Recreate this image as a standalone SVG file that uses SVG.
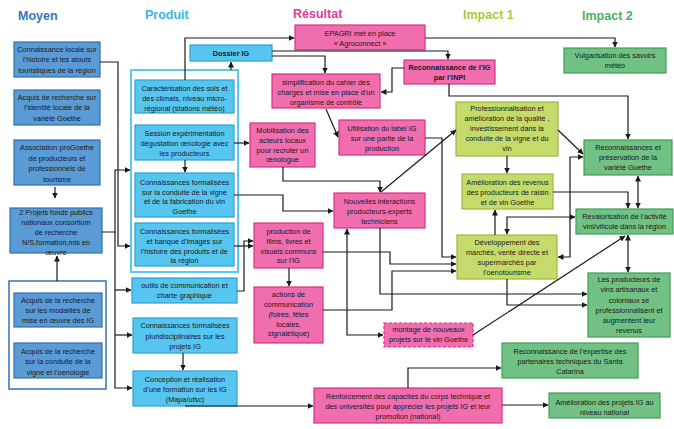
<svg xmlns="http://www.w3.org/2000/svg" width="674" height="429" viewBox="0 0 674 429">
<style>
.t{font-family:"Liberation Sans",Arial,sans-serif;font-size:7.3px;fill:#1a1a1a;text-anchor:middle}
.b{font-weight:bold}
.h{font-family:"Liberation Sans",Arial,sans-serif;font-size:12.5px;font-weight:bold}
.moy{fill:#5b9bd5;stroke:#2f6fb0;stroke-width:1.2}
.pro{fill:#56c5ef;stroke:#2aa2d4;stroke-width:1.2}
.res{fill:#f06dae;stroke:#d8307f;stroke-width:1.2}
.im1{fill:#c4db6b;stroke:#9cba3a;stroke-width:1.2}
.im2{fill:#70c183;stroke:#3e9e55;stroke-width:1.2}
.c{fill:none;stroke:#1a1a1a;stroke-width:1.2;marker-end:url(#a)}
.d{marker-start:url(#a)}
</style>
<defs>
<marker id="a" markerUnits="userSpaceOnUse" markerWidth="6" markerHeight="6" refX="5.5" refY="3" orient="auto-start-reverse"><path d="M0,0 L6,3 L0,6 z" fill="#1a1a1a"/></marker>
</defs>
<rect width="674" height="429" fill="#ffffff"/>
<g id="titles">
<text class="h" x="18" y="20" fill="#2f77c0">Moyen</text>
<text class="h" x="145" y="19" fill="#33b8e8">Produit</text>
<text class="h" x="293" y="18" fill="#e03b9b">Résultat</text>
<text class="h" x="463" y="19" fill="#a8c83c">Impact 1</text>
<text class="h" x="582" y="20" fill="#4cae5e">Impact 2</text>
</g>
<g id="moyen1"><rect class="moy" x="14" y="42" width="86" height="35"/><text class="t"><tspan x="57" y="51.5">Connaissance locale sur</tspan><tspan x="57" y="62">l’histoire et les atouts</tspan><tspan x="57" y="72.5">touristiques de la région</tspan></text></g>
<g id="moyen2"><rect class="moy" x="14" y="90" width="86" height="35"/><text class="t"><tspan x="57" y="99.5">Acquis de recherche sur</tspan><tspan x="57" y="110">l’identité locale de la</tspan><tspan x="57" y="120.5">variété Goethe</tspan></text></g>
<g id="moyen3"><rect class="moy" x="14" y="140" width="86" height="45"/><text class="t"><tspan x="57" y="150">Association proGoethe</tspan><tspan x="57" y="160.5">de producteurs et</tspan><tspan x="57" y="171">professionnels de</tspan><tspan x="57" y="181.5">tourisme</tspan></text></g>
<g id="moyen4"><rect class="moy" x="10" y="208" width="92" height="45"/><text class="t"><tspan x="56" y="214.5">2 Projets fonds publics</tspan><tspan x="56" y="224.5">nationaux consortium</tspan><tspan x="56" y="234.5">de recherche</tspan><tspan x="56" y="244.5">N/S,formation,mis en</tspan><tspan x="56" y="254.5">œuvre</tspan></text></g>
<g id="moyen-acquis">
<rect x="9" y="281" width="97" height="108" fill="#ffffff" stroke="#2e75b6" stroke-width="1.5"/>
<g id="moyen5"><rect class="moy" x="14" y="293" width="88" height="34"/><text class="t"><tspan x="58" y="302.5">Acquis de la recherche</tspan><tspan x="58" y="312.5">sur les modalités de</tspan><tspan x="58" y="322.5">mise en œuvre des IG</tspan></text></g>
<g id="moyen6"><rect class="moy" x="14" y="343" width="88" height="35"/><text class="t"><tspan x="58" y="353.5">Acquis de la recherche</tspan><tspan x="58" y="364">sur la conduite de la</tspan><tspan x="58" y="374.5">vigne et l’oenologie</tspan></text></g>
</g>
<g id="dossier"><rect class="pro" x="190" y="45" width="82" height="16"/><text class="t b" x="231" y="56">Dossier IG</text></g>
<g id="produit-group">
<rect x="131" y="70" width="107" height="202" fill="#ffffff" stroke="#5bc8ef" stroke-width="2"/>
<g id="prod-a"><rect class="pro" x="135" y="80" width="99" height="33"/><text class="t"><tspan x="184.5" y="90.5">Caractérisation des sols et</tspan><tspan x="184.5" y="100.5">des climats, niveau micro-</tspan><tspan x="184.5" y="110.5">régional  (stations  météo)</tspan></text></g>
<g id="prod-b"><rect class="pro" x="135" y="125" width="99" height="35"/><text class="t"><tspan x="184.5" y="135.5">Session expérimentation</tspan><tspan x="184.5" y="146">dégustation œnologie avec</tspan><tspan x="184.5" y="156">les producteurs</tspan></text></g>
<g id="prod-c"><rect class="pro" x="135" y="173" width="99" height="44"/><text class="t"><tspan x="184.5" y="184.5">Connaissances formalisées</tspan><tspan x="184.5" y="194.5">sur la conduite de la vigne</tspan><tspan x="184.5" y="204">et de la fabrication du vin</tspan><tspan x="184.5" y="213.5">Goethe</tspan></text></g>
<g id="prod-d"><rect class="pro" x="135" y="223" width="99" height="43"/><text class="t"><tspan x="184.5" y="233.5">Connaissances formalisées</tspan><tspan x="184.5" y="243.5">et banque d’images sur</tspan><tspan x="184.5" y="253.5">l’histoire des produits et de</tspan><tspan x="184.5" y="262.5">la région</tspan></text></g>
</g>
<g id="outils"><rect class="pro" x="132" y="278" width="105" height="25"/><text class="t"><tspan x="184.5" y="287.5">outils de communication et</tspan><tspan x="184.5" y="297.5">charte graphique</tspan></text></g>
<g id="pluri"><rect class="pro" x="133" y="318" width="104" height="35"/><text class="t"><tspan x="185" y="327.5">Connaissances  formalisées</tspan><tspan x="185" y="338.5">pluridisciplinaires sur les</tspan><tspan x="185" y="348.5">projets IG</tspan></text></g>
<g id="conception"><rect class="pro" x="133" y="371" width="104" height="35"/><text class="t"><tspan x="185" y="381.5">Conception et réalisation</tspan><tspan x="185" y="391.5">d’une formation sur les IG</tspan><tspan x="185" y="401.5">(Mapa/ufsc)</tspan></text></g>
<g id="epagri"><rect class="res" x="295" y="25" width="130" height="25"/><text class="t"><tspan x="360" y="35.5">EPAGRI met en place</tspan><tspan x="360" y="45.5">« Agroconnect »</tspan></text></g>
<g id="simplification"><rect class="res" x="272" y="74" width="108" height="34"/><text class="t"><tspan x="326" y="84.5">simplification du cahier des</tspan><tspan x="326" y="94.5">charges et mise en place d’un</tspan><tspan x="326" y="104.5">organisme de contrôle</tspan></text></g>
<g id="inpi"><rect class="res" x="404" y="60" width="91" height="24"/><text class="t b"><tspan x="449.5" y="69.5">Reconnaissance de l’IG</tspan><tspan x="449.5" y="79.5">par l’INPI</tspan></text></g>
<g id="utilisation"><rect class="res" x="339" y="120" width="86" height="35"/><text class="t"><tspan x="382" y="130.5">Utilisation du label IG</tspan><tspan x="382" y="140.5">sur une partie de la</tspan><tspan x="382" y="150.5">production</tspan></text></g>
<g id="mobilisation"><rect class="res" x="250" y="123" width="65" height="44"/><text class="t"><tspan x="282.5" y="132.5">Mobilisation des</tspan><tspan x="282.5" y="142.5">acteurs locaux</tspan><tspan x="282.5" y="152.5">pour  recruter un</tspan><tspan x="282.5" y="162">œnologue</tspan></text></g>
<g id="nouvelles"><rect class="res" x="334" y="193" width="91" height="35"/><text class="t"><tspan x="379.5" y="203.5">Nouvelles interactions</tspan><tspan x="379.5" y="213.5">producteurs-experts</tspan><tspan x="379.5" y="223.5">techniciens</tspan></text></g>
<g id="production"><rect class="res" x="254" y="223" width="69" height="45"/><text class="t"><tspan x="288.5" y="233.5">production de</tspan><tspan x="288.5" y="243.5">films, livres et</tspan><tspan x="288.5" y="253.5">visuels communs</tspan><tspan x="288.5" y="262.5">sur l’IG</tspan></text></g>
<g id="actions"><rect class="res" x="254" y="287" width="69" height="56"/><text class="t"><tspan x="288.5" y="296.5">actions de</tspan><tspan x="288.5" y="306.5">communication</tspan><tspan x="288.5" y="316.5">(foires, fêtes</tspan><tspan x="288.5" y="326.5">locales,</tspan><tspan x="288.5" y="335.5">signalétique)</tspan></text></g>
<g id="montage"><rect class="res" x="384" y="323" width="89" height="24" stroke-dasharray="3,2"/><text class="t"><tspan x="428.5" y="331.5">montage de nouveaux</tspan><tspan x="428.5" y="341.5">projets sur le vin Goethe</tspan></text></g>
<g id="renforcement"><rect class="res" x="314" y="388" width="188" height="35"/><text class="t"><tspan x="408" y="398.5">Renforcement des capacités du corps technique et</tspan><tspan x="408" y="408.5">des universités pour apprécier les projets IG et leur</tspan><tspan x="408" y="418.5">promotion (national)</tspan></text></g>
<g id="professionnalisation"><rect class="im1" x="456" y="102" width="102" height="54"/><text class="t"><tspan x="507" y="111">Professionnalisation et</tspan><tspan x="507" y="121">amélioration de la qualité ,</tspan><tspan x="507" y="131">investissement dans la</tspan><tspan x="507" y="141">conduite de la vigne et du</tspan><tspan x="507" y="151">vin</tspan></text></g>
<g id="revenus"><rect class="im1" x="462" y="174" width="91" height="35"/><text class="t"><tspan x="507.5" y="184.5">Amélioration des revenus</tspan><tspan x="507.5" y="194.5">des producteurs de raisin</tspan><tspan x="507.5" y="204.5">et de vin Goethe</tspan></text></g>
<g id="developpement"><rect class="im1" x="457" y="235" width="100" height="44"/><text class="t"><tspan x="507" y="244.5">Développement des</tspan><tspan x="507" y="254.5">marchés, vente directe et</tspan><tspan x="507" y="264.5">supermarchés par</tspan><tspan x="507" y="275">l’oenotourisme</tspan></text></g>
<g id="vulgarisation"><rect class="im2" x="564" y="48" width="102" height="25"/><text class="t"><tspan x="615" y="57.5">Vulgarisation des savoirs</tspan><tspan x="615" y="67.5">météo</tspan></text></g>
<g id="preservation"><rect class="im2" x="584" y="140" width="88" height="35"/><text class="t"><tspan x="628" y="149.5">Reconnaissances et</tspan><tspan x="628" y="159.5">préservation de la</tspan><tspan x="628" y="169.5">variété Goethe</tspan></text></g>
<g id="revalorisation"><rect class="im2" x="576" y="209" width="97" height="25"/><text class="t"><tspan x="624.5" y="218.5">Revalorisation de l’activité</tspan><tspan x="624.5" y="228.5">vini/viticole dans la région</tspan></text></g>
<g id="producteurs"><rect class="im2" x="588" y="273" width="82" height="64"/><text class="t"><tspan x="629" y="281.5">Les producteurs de</tspan><tspan x="629" y="292">vins artisanaux et</tspan><tspan x="629" y="302.5">coloniaux se</tspan><tspan x="629" y="312.5">professionnalisent et</tspan><tspan x="629" y="322.5">augmentent leur</tspan><tspan x="629" y="333">revenus</tspan></text></g>
<g id="expertise"><rect class="im2" x="502" y="343" width="136" height="35"/><text class="t"><tspan x="570" y="353.5">Reconnaissance de l’expertise des</tspan><tspan x="570" y="363.5">partenaires techniques du Santa</tspan><tspan x="570" y="373.5">Catarina</tspan></text></g>
<g id="projets-national"><rect class="im2" x="549" y="393" width="111" height="25"/><text class="t"><tspan x="604.5" y="404.5">Amélioration des projets IG au</tspan><tspan x="604.5" y="414.5">niveau national</tspan></text></g>
<g id="connectors">
<path class="c" d="M100,62 H118 V246 H130"/>
<path class="c" d="M102,232 H115 V170 H130"/>
<path class="c" d="M115,232 V388 H132"/>
<path class="c" d="M115,290 H131"/>
<path class="c" d="M115,335 H132"/>
<path class="c" d="M55,187 V198"/>
<path class="c" d="M57,281 V256"/>
<path class="c" d="M185,80 V38 H294"/>
<path class="c" d="M231,70 V62"/>
<path class="c" d="M272,51 H448 V59"/>
<path class="c" d="M272,56 H325 V73"/>
<path class="c" d="M425,38 H615 V47"/>
<path class="c" d="M404,68 H392 V92 H381"/>
<path class="c" d="M449,84 V96 H628 V139"/>
<path class="c" d="M326,109 L338,137"/>
<path class="c" d="M425,138 H442 V257 H456"/>
<path class="c" d="M234,143 H249"/>
<path class="c" d="M283,167 V181 H380 V192"/>
<path class="c" d="M381,192 L456,130"/>
<path class="c" d="M234,195 H283 V211 H333"/>
<path class="c" d="M234,246 H253"/>
<path class="c" d="M237,291 H244 V241 H253"/>
<path class="c" d="M289,268 V286"/>
<path class="c" d="M323,252 H390 V264 H456"/>
<path class="c" d="M323,310 H392 V271 H456"/>
<path class="c" d="M380,228 V294 H587"/>
<path class="c d" d="M347,229 V335 H383"/>
<path class="c" d="M473,335 L625,236"/>
<path class="c" d="M185,406 H313"/>
<path class="c" d="M408,388 V368 H501"/>
<path class="c" d="M502,405 H548"/>
<path class="c" d="M507,156 V173"/>
<path class="c" d="M495,235 V210"/>
<path class="c d" d="M575,217 H507 V234"/>
<path class="c" d="M553,192 H628 V208"/>
<path class="c d" d="M638,176 V208"/>
<path class="c d" d="M628,235 V272"/>
<path class="c d" d="M583,157 H570 V257 H558"/>
<path class="c" d="M558,130 L583,154"/>
<path class="c" d="M507,279 V305 H587"/>
<path class="c" d="M185,160 V172"/>
<path class="c" d="M183,353 V370"/>
</g>
</svg>
